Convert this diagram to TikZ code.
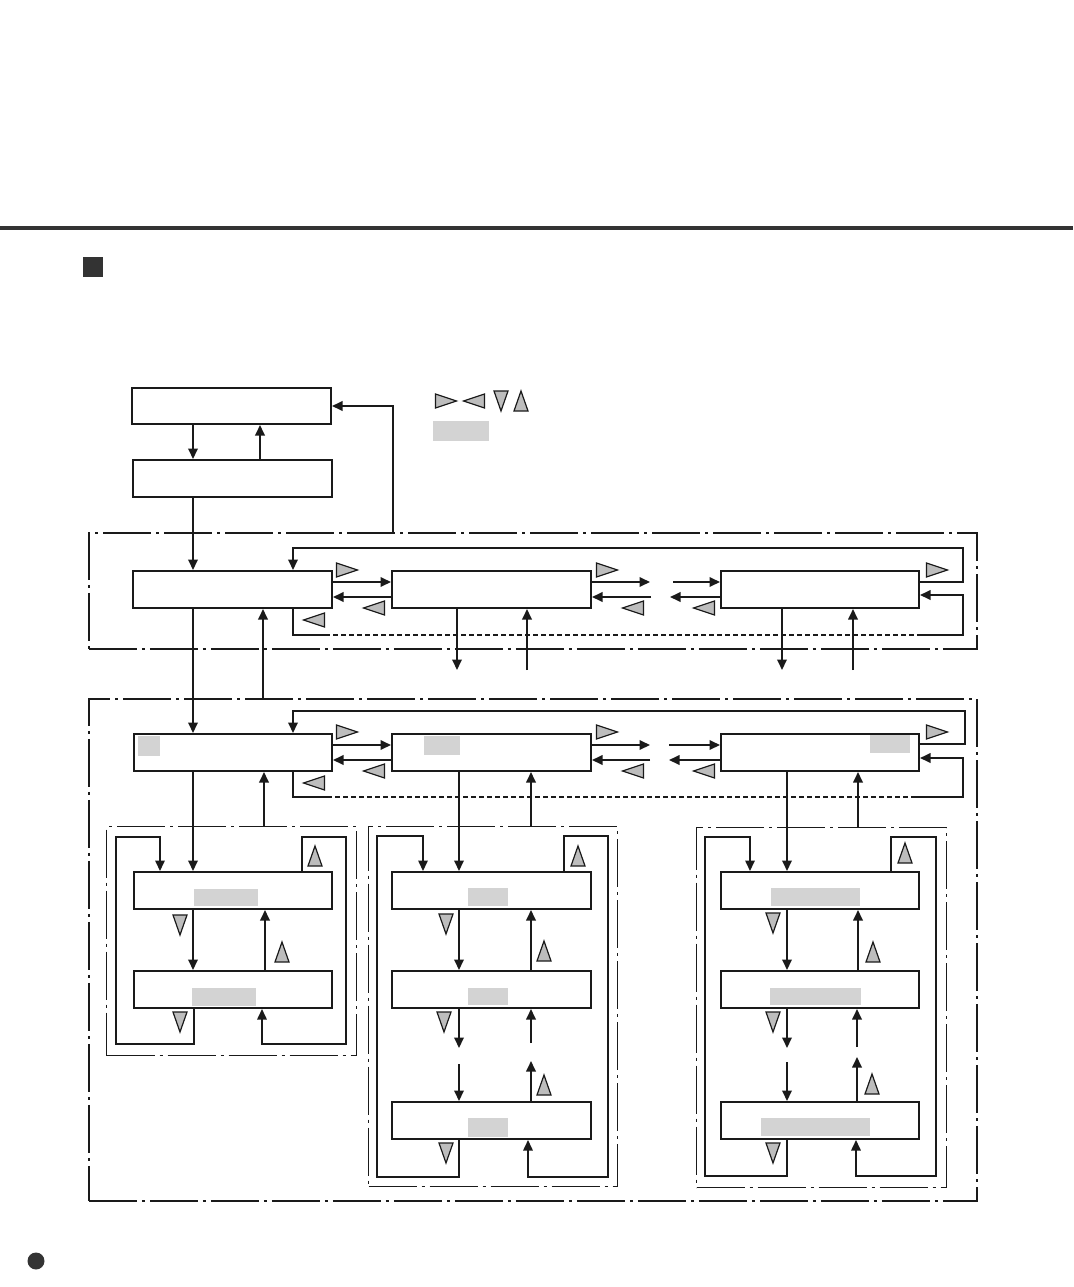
\documentclass[tikz,border=0pt]{standalone}
\usetikzlibrary{arrows.meta}
\definecolor{ink}{HTML}{1A1A1A}
\definecolor{dk}{HTML}{333333}
\definecolor{trig}{HTML}{BDBDBD}
\definecolor{hl}{HTML}{D3D3D3}
\tikzset{
  box/.style={draw=ink, line width=2pt, inner sep=0pt, anchor=north west, minimum width=198pt, minimum height=37pt},
  con/.style={draw=ink, line width=1.8pt},
  arr/.style={con, -{Triangle[length=10.5pt,width=9.5pt]}},
  grpA/.style={draw=ink, line width=1.9pt, dash pattern=on 48pt off 5pt on 3pt off 5pt, inner sep=0pt, anchor=north west},
  grpB/.style={grpA, line width=1.6pt},
  grpC/.style={grpA, line width=1.3pt},
  lp/.style={draw=ink, line width=1.6pt},
  lparr/.style={lp, -{Triangle[length=10.5pt,width=9.5pt]}},
  ret/.style={draw=ink, line width=1.8pt, dash pattern=on 5pt off 3pt},
  tri/.style={draw=ink, line width=1.2pt, fill=trig, line join=miter},
  tR/.pic={\path[tri] (-10.5pt,-7pt) -- (10.5pt,0pt) -- (-10.5pt,7pt) -- cycle;},
  tL/.pic={\path[tri] (10.5pt,-7pt) -- (-10.5pt,0pt) -- (10.5pt,7pt) -- cycle;},
  tD/.pic={\path[tri] (-7pt,10pt) -- (7pt,10pt) -- (0pt,-10pt) -- cycle;},
  tU/.pic={\path[tri] (-7pt,-10pt) -- (7pt,-10pt) -- (0pt,10pt) -- cycle;},
}
\begin{document}
\begin{tikzpicture}[x=1pt,y=-1pt]
\useasboundingbox (0,0) rectangle (1073,1287);
% page furniture
\fill[dk] (0,226) rectangle (1073,230);
\fill[dk] (83,257) rectangle (103,277);
\fill[dk] (36,1261) circle (8.5pt);
% legend
\pic at (446,401) {tR};
\pic at (474,401) {tL};
\pic at (501,401) {tD};
\pic at (521,401) {tU};
\fill[hl] (433,421) rectangle (489,441);
% nodes
\node[box,minimum width=199pt,minimum height=36pt] (A) at (131,387) {};
\node[box,minimum width=199pt] (B) at (132,459) {};
\node[grpA,minimum width=888pt,minimum height=116pt] (G1) at (88,532) {};
\node[box,minimum width=199pt] (C1) at (132,570) {};
\node[box,minimum width=199pt] (C2) at (391,570) {};
\node[box] (C3) at (720,570) {};
\node[grpB,minimum width=888pt,minimum height=502pt] (G2) at (88,698) {};
\node[box] (D1) at (133,733) {};
\node[box,minimum width=199pt] (D2) at (391,733) {};
\node[box] (D3) at (720,733) {};
\node[grpC,minimum width=250pt,minimum height=229pt] (H1) at (106,826) {};
\node[grpC,minimum width=249pt,minimum height=360pt] (H2) at (368,826) {};
\node[grpC,minimum width=250pt,minimum height=360pt] (H3) at (696,827) {};
\node[box] (E1a) at (133,871) {};
\node[box] (E1b) at (133,970) {};
\node[box,minimum width=199pt] (E2a) at (391,871) {};
\node[box,minimum width=199pt] (E2b) at (391,970) {};
\node[box,minimum width=199pt] (E2c) at (391,1101) {};
\node[box] (E3a) at (720,871) {};
\node[box] (E3b) at (720,970) {};
\node[box] (E3c) at (720,1101) {};
% highlights
\fill[hl] (138,736) rectangle (160,756);
\fill[hl] (424,736) rectangle (460,755);
\fill[hl] (870,735) rectangle (910,753);
\fill[hl] (194,889) rectangle (258,906);
\fill[hl] (192,988) rectangle (256,1006);
\fill[hl] (468,888) rectangle (508,906);
\fill[hl] (468,988) rectangle (508,1005);
\fill[hl] (468,1118) rectangle (508,1137);
\fill[hl] (771,888) rectangle (860,906);
\fill[hl] (770,988) rectangle (861,1005);
\fill[hl] (761,1118) rectangle (870,1136);
% top connectors
\draw[arr] (A.south -| 193,0) -- (B.north -| 193,0);
\draw[arr] (B.north -| 260,0) -- (A.south -| 260,0);
\draw[arr] (G1.north -| 393,0) |- (A.east);
\draw[arr] (B.south -| 193,0) -- (C1.north -| 193,0);
% row C
\draw[arr] (C1.east |- 0,582) -- (C2.west |- 0,582);
\draw[arr] (C2.west |- 0,597) -- (C1.east |- 0,597);
\coordinate (c2r) at (650,582);
\coordinate (c3r) at (673,582);
\coordinate (c2l) at (651,597);
\coordinate (c3l) at (670,597);
\draw[arr] (C2.east |- 0,582) -- (c2r);
\draw[arr] (c3r) -- (C3.west |- 0,582);
\draw[arr] (c2l) -- (C2.east |- 0,597);
\draw[arr] (C3.west |- 0,597) -- (c3l);
\draw[arr] (C3.east |- 0,582) -- (963,582) |- (293,548) -- (C1.north -| 293,0);
\draw[con] (C1.south -| 293,0) |- (325,635);
\draw[ret] (325,635) -- (917,635);
\draw[arr] (917,635) -| (963,595) -- (C3.east |- 0,595);
\coordinate (c2d) at (457,670);
\coordinate (c2u) at (527,670);
\coordinate (c3d) at (782,670);
\coordinate (c3u) at (853,670);
\draw[arr] (C2.south -| c2d) -- (c2d);
\draw[arr] (c2u) -- (C2.south -| c2u);
\draw[arr] (C3.south -| c3d) -- (c3d);
\draw[arr] (c3u) -- (C3.south -| c3u);
\draw[arr] (C1.south -| 193,0) -- (D1.north -| 193,0);
\draw[arr] (G2.north -| 263,0) -- (C1.south -| 263,0);
\pic at (347,570) {tR};
\pic at (374,608) {tL};
\pic at (314,620) {tL};
\pic at (607,570) {tR};
\pic at (633,608) {tL};
\pic at (704,608) {tL};
\pic at (937,570) {tR};
% row D
\draw[arr] (D1.east |- 0,745) -- (D2.west |- 0,745);
\draw[arr] (D2.west |- 0,760) -- (D1.east |- 0,760);
\coordinate (d2r) at (650,745);
\coordinate (d3r) at (669,745);
\coordinate (d2l) at (650,760);
\coordinate (d3l) at (669,760);
\draw[arr] (D2.east |- 0,745) -- (d2r);
\draw[arr] (d3r) -- (D3.west |- 0,745);
\draw[arr] (d2l) -- (D2.east |- 0,760);
\draw[arr] (D3.west |- 0,760) -- (d3l);
\draw[arr] (D3.east |- 0,744) -- (965,744) |- (293,711) -- (D1.north -| 293,0);
\draw[con] (D1.south -| 293,0) |- (327,797);
\draw[ret] (327,797) -- (913,797);
\draw[arr] (913,797) -| (963,758) -- (D3.east |- 0,758);
\pic at (347,732) {tR};
\pic at (374,771) {tL};
\pic at (314,783) {tL};
\pic at (607,732) {tR};
\pic at (633,771) {tL};
\pic at (704,771) {tL};
\pic at (937,732) {tR};
% D to E
\draw[arr] (D1.south -| 193,0) -- (E1a.north -| 193,0);
\draw[arr] (H1.north -| 264,0) -- (D1.south -| 264,0);
\draw[arr] (D2.south -| 459,0) -- (E2a.north -| 459,0);
\draw[arr] (H2.north -| 531,0) -- (D2.south -| 531,0);
\draw[arr] (D3.south -| 787,0) -- (E3a.north -| 787,0);
\draw[arr] (H3.north -| 858,0) -- (D3.south -| 858,0);
% column 1
\draw[lparr] (E1b.south -| 194,0) -- (194,1044) -| (116,837) -| (E1a.north -| 160,0);
\draw[lparr] (E1a.north -| 302,0) |- (346,837) |- (262,1044) -- (E1b.south -| 262,0);
\draw[arr] (E1a.south -| 193,0) -- (E1b.north -| 193,0);
\draw[arr] (E1b.north -| 265,0) -- (E1a.south -| 265,0);
\pic at (315,856) {tU};
\pic at (180,925) {tD};
\pic at (282,952) {tU};
\pic at (180,1022) {tD};
% column 2
\draw[lparr] (E2c.south -| 459,0) -- (459,1177) -| (377,836) -| (E2a.north -| 423,0);
\draw[lparr] (E2a.north -| 564,0) |- (608,836) |- (528,1177) -- (E2c.south -| 528,0);
\draw[arr] (E2a.south -| 459,0) -- (E2b.north -| 459,0);
\draw[arr] (E2b.north -| 531,0) -- (E2a.south -| 531,0);
\coordinate (e2d1) at (459,1048);
\coordinate (e2d2) at (459,1064);
\coordinate (e2u1) at (531,1061);
\coordinate (e2u2) at (531,1043);
\draw[arr] (E2b.south -| e2d1) -- (e2d1);
\draw[arr] (e2d2) -- (E2c.north -| e2d2);
\draw[arr] (E2c.north -| e2u1) -- (e2u1);
\draw[arr] (e2u2) -- (E2b.south -| e2u2);
\pic at (578,856) {tU};
\pic at (446,924) {tD};
\pic at (544,951) {tU};
\pic at (444,1022) {tD};
\pic at (544,1085) {tU};
\pic at (446,1153) {tD};
% column 3
\draw[lparr] (E3c.south -| 787,0) -- (787,1176) -| (705,837) -| (E3a.north -| 750,0);
\draw[lparr] (E3a.north -| 891,0) |- (936,837) |- (856,1176) -- (E3c.south -| 856,0);
\draw[arr] (E3a.south -| 787,0) -- (E3b.north -| 787,0);
\draw[arr] (E3b.north -| 858,0) -- (E3a.south -| 858,0);
\coordinate (e3d1) at (787,1048);
\coordinate (e3d2) at (787,1062);
\coordinate (e3u1) at (857,1057);
\coordinate (e3u2) at (857,1047);
\draw[arr] (E3b.south -| e3d1) -- (e3d1);
\draw[arr] (e3d2) -- (E3c.north -| e3d2);
\draw[arr] (E3c.north -| e3u1) -- (e3u1);
\draw[arr] (e3u2) -- (E3b.south -| e3u2);
\pic at (905,853) {tU};
\pic at (773,923) {tD};
\pic at (873,952) {tU};
\pic at (773,1022) {tD};
\pic at (872,1084) {tU};
\pic at (773,1153) {tD};
\end{tikzpicture}
\end{document}
